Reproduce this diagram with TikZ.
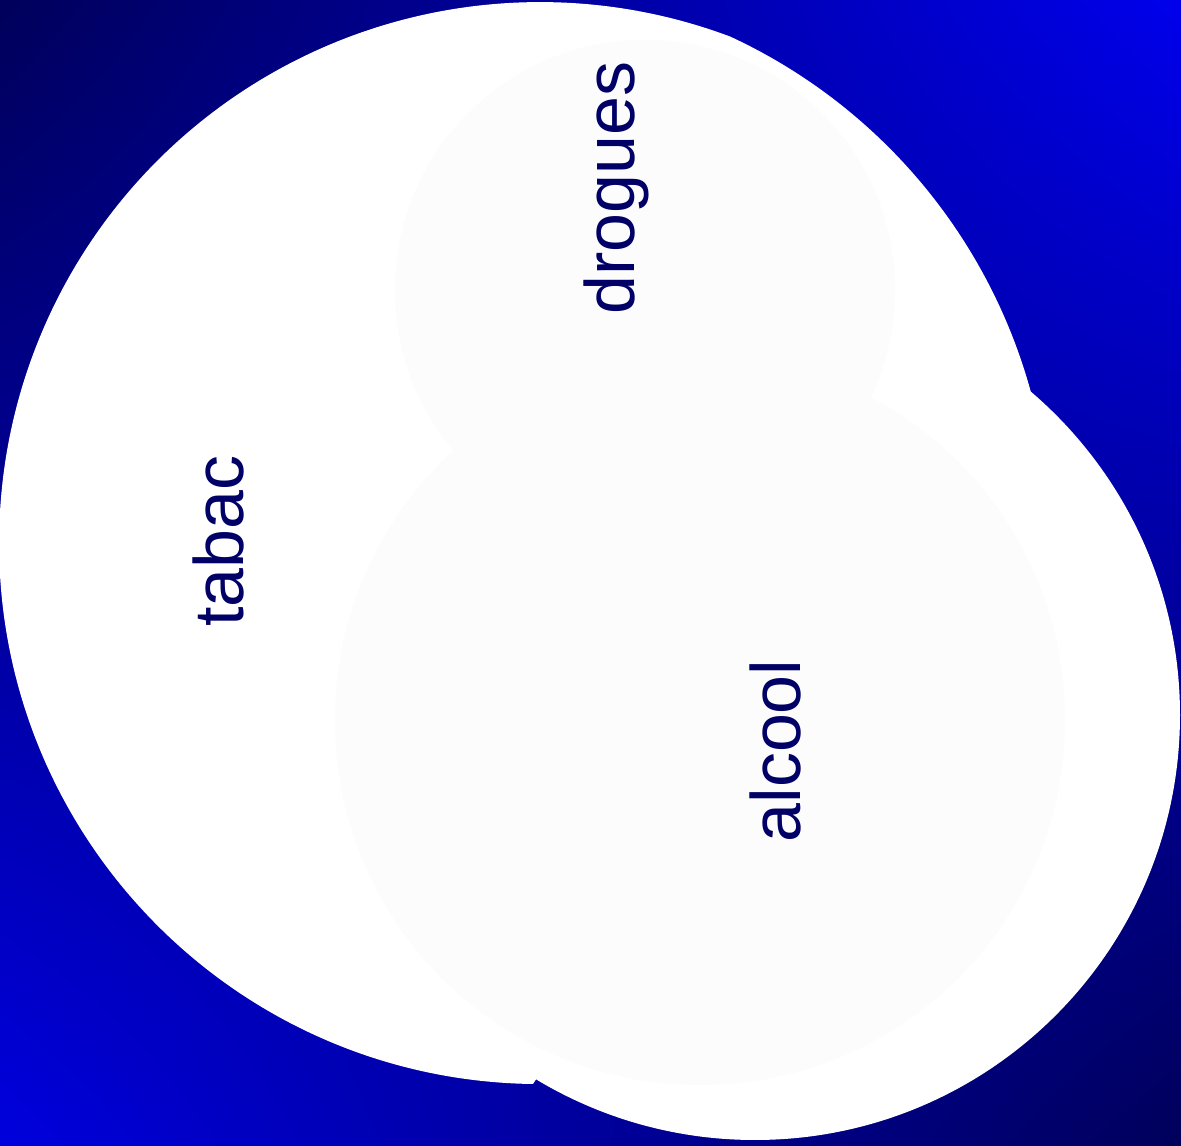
\documentclass[tikz,border=0pt]{standalone}
\usepackage{fontspec}
\setmainfont{Liberation Sans}
\definecolor{vnnavy}{HTML}{00005A}
\definecolor{vnbright}{HTML}{0000EC}
\definecolor{vnink}{HTML}{000066}
\definecolor{vnghost}{HTML}{FCFCFC}
\usetikzlibrary{positioning, shadings}

\begin{document}
\begin{tikzpicture}[x=0.01cm, y=-0.01cm, every node/.style={font=\fontsize{19.9}{24}\selectfont, text=vnink, inner sep=0pt, rotate=90, anchor=base}]
  \useasboundingbox (0,0) rectangle (1181,1146);
  \shade[upper left=vnnavy, upper right=vnbright, lower left=vnbright!94!black, lower right=vnnavy] (0,0) rectangle (1181,1146);
  % white blob of the three sets
  \fill[white] (755,715) circle[radius=425];
  \fill[white] (533,1084) arc[start angle=90.75, end angle=290.6, radius=541]
    arc[start angle=294.9, end angle=344.7, radius=553] -- (880,600) -- (620,950) -- cycle;
  % faint inner discs
  \fill[vnghost] (645,290) circle[radius=250];
  \fill[vnghost] (700,720) circle[radius=365];
  \node (drogues) at (634,188) {drogues};
  \node (tabac) at (243,541) {tabac};
  \node (alcool) at (800,751) {alcool};
\end{tikzpicture}
\end{document}
